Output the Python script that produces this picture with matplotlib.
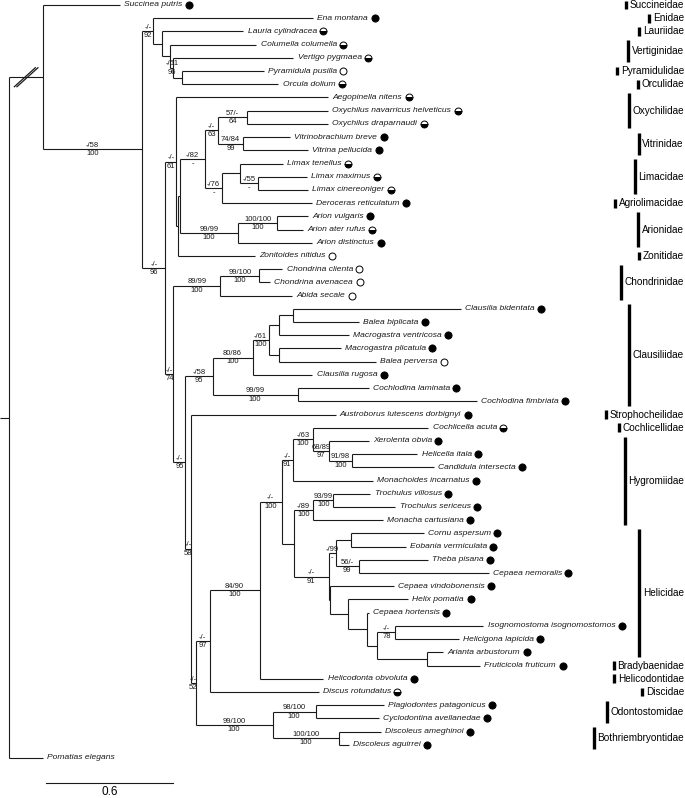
import matplotlib
matplotlib.use('Agg')
import matplotlib.pyplot as plt

# ---------------- DATA ----------------
# Sub-clades in Newick form; internal labels "bootstrap/bootstrap|posterior"
stylommatophora_basal = ("(Ena montana:0.756,(Lauria cylindracea:0.383,(Columella columella:0.406,"
                         "(Vertigo pygmaea:0.567,(Pyramidula pusilla:0.383,Orcula dolium:0.453):0.043)-/51|96:0.014)"
                         ":0.038):0.043)-/-|92:0.052")
limacoid = ("(Aegopinella nitens:0.718,((("
            "((Oxychilus navarricus helveticus:0.383,Oxychilus draparnaudi:0.383)57/-|64:0.137,"
            "(Vitrinobrachium breve:0.222,Vitrina pellucida:0.307)74/84|99:0.118)-/-|63:0.061,"
            "((Limax tenellus:0.203,(Limax maximus:0.231,Limax cinereoniger:0.236)-/55|-:0.085):0.085,"
            "Deroceras reticulatum:0.425)-/76|-:0.080)-/82|-:0.118,"
            "((Arion vulgaris:0.146,Arion ater rufus:0.123)100/100|100:0.184,Arion distinctus:0.350)99/99|100:0.274)"
            ":0.009,Zonitoides nitidus:0.364):0.009)-/-|61:0.052")
chondrinidae = ("((Chondrina clienta:0.109,Chondrina avenacea:0.052)99/100|100:0.184,"
                "Abida secale:0.340)89/99|100:0.222")
clausiliidae = ("(((((Clausilia bidentata:0.794,Balea biplicata:0.312):0.066,Macrogastra ventricosa:0.331):0.047,"
                "(Macrogastra plicatula:0.293,Balea perversa:0.458):0.047)-/61|100:0.076,"
                "Clausilia rugosa:0.283)80/86|100:0.189,"
                "(Cochlodina laminata:0.335,Cochlodina fimbriata:0.846)99/99|100:0.402)-/58|95:0.128")
hygromiidae_a = ("((Cochlicella acuta:0.543,(Xerolenta obvia:0.189,(Helicella itala:0.307,"
                 "Candidula intersecta:0.383)91/98|100:0.113)68/89|97:0.071)-/63|100:0.099,"
                 "Monachoides incarnatus:0.378)-/-|91:0.052")
hygromiidae_b = ("((Trochulus villosus:0.175,Trochulus sericeus:0.293)93/99|100:0.094,"
                 "Monacha cartusiana:0.326)-/89|100:0.094")
helicidae = ("(((Cornu aspersum:0.345,Eobania vermiculata:0.260):0.071,"
             "(Theba pisana:0.326,Cepaea nemoralis:0.614)56/-|99:0.109)-/99|-:0.033,"
             "(Cepaea vindobonensis:0.298,(Helix pomatia:0.283,(Cepaea hortensis:0.005,"
             "((Isognomostoma isognomostomos:0.416,Helicigona lapicida:0.298)-/-|78:0.085,"
             "(Arianta arbustorum:0.076,Fruticicola fruticum:0.250):0.236):0.047):0.090):0.085):0.009)-/-|91:0.165")
orthalicoid = ("((Plagiodontes patagonicus:0.321,Cyclodontina avellanedae:0.298)98/100|100:0.203,"
               "(Discoleus ameghinoi:0.198,Discoleus aguirrei:0.047)100/100|100:0.312)99/100|100:0.364")

helicoid = (f"((({hygromiidae_a},({hygromiidae_b},{helicidae}):0.057)-/-|100:0.104,"
            f"Helicodonta obvoluta:0.302)84/90|100:0.236,Discus rotundatus:0.515)-/-|97:0.066")
lower = (f"({clausiliidae},(Austroborus lutescens dorbignyi:0.685,({helicoid},{orthalicoid})-/-|52:0.024)"
         f"-/-|58:0.024)-/-|95:0.057")
tree_newick = (f"((Succinea putris:0.364,({stylommatophora_basal},({limacoid},({chondrinidae},{lower})-/-|74:0.038)"
               f"-/-|96:0.109)-/58|100:0.468):0.161,Pomatias elegans:0.161);")

# habitat marker: filled, half, open
filled = ["Succinea putris", "Ena montana", "Vitrinobrachium breve", "Vitrina pellucida",
          "Deroceras reticulatum", "Arion vulgaris", "Arion distinctus", "Clausilia bidentata",
          "Balea biplicata", "Macrogastra ventricosa", "Macrogastra plicatula", "Clausilia rugosa",
          "Cochlodina laminata", "Cochlodina fimbriata", "Austroborus lutescens dorbignyi",
          "Xerolenta obvia", "Helicella itala", "Candidula intersecta", "Monachoides incarnatus",
          "Trochulus villosus", "Trochulus sericeus", "Monacha cartusiana", "Cornu aspersum",
          "Eobania vermiculata", "Theba pisana", "Cepaea nemoralis", "Cepaea vindobonensis",
          "Helix pomatia", "Cepaea hortensis", "Isognomostoma isognomostomos", "Helicigona lapicida",
          "Arianta arbustorum", "Fruticicola fruticum", "Helicodonta obvoluta",
          "Plagiodontes patagonicus", "Cyclodontina avellanedae", "Discoleus ameghinoi", "Discoleus aguirrei"]
half = ["Lauria cylindracea", "Columella columella", "Vertigo pygmaea", "Orcula dolium",
        "Aegopinella nitens", "Oxychilus navarricus helveticus", "Oxychilus draparnaudi",
        "Limax tenellus", "Limax maximus", "Limax cinereoniger", "Arion ater rufus",
        "Cochlicella acuta", "Discus rotundatus"]
open_ = ["Pyramidula pusilla", "Zonitoides nitidus", "Chondrina clienta", "Chondrina avenacea",
         "Abida secale", "Balea perversa"]

family_names = ["Succineidae", "Enidae", "Lauriidae", "Vertiginidae", "Pyramidulidae", "Orculidae",
                "Oxychilidae", "Vitrinidae", "Limacidae", "Agriolimacidae", "Arionidae", "Zonitidae",
                "Chondrinidae", "Clausiliidae", "Strophocheilidae", "Cochlicellidae", "Hygromiidae",
                "Helicidae", "Bradybaenidae", "Helicodontidae", "Discidae", "Odontostomidae",
                "Bothriembryontidae"]
family_first = ["Succinea putris", "Ena montana", "Lauria cylindracea", "Columella columella",
                "Pyramidula pusilla", "Orcula dolium", "Aegopinella nitens", "Vitrinobrachium breve",
                "Limax tenellus", "Deroceras reticulatum", "Arion vulgaris", "Zonitoides nitidus",
                "Chondrina clienta", "Clausilia bidentata", "Austroborus lutescens dorbignyi",
                "Cochlicella acuta", "Xerolenta obvia", "Cornu aspersum", "Fruticicola fruticum",
                "Helicodonta obvoluta", "Discus rotundatus", "Plagiodontes patagonicus", "Discoleus ameghinoi"]
family_last = ["Succinea putris", "Ena montana", "Lauria cylindracea", "Vertigo pygmaea",
               "Pyramidula pusilla", "Orcula dolium", "Oxychilus draparnaudi", "Vitrina pellucida",
               "Limax cinereoniger", "Deroceras reticulatum", "Arion distinctus", "Zonitoides nitidus",
               "Abida secale", "Cochlodina fimbriata", "Austroborus lutescens dorbignyi",
               "Cochlicella acuta", "Monacha cartusiana", "Arianta arbustorum", "Fruticicola fruticum",
               "Helicodonta obvoluta", "Discus rotundatus", "Cyclodontina avellanedae", "Discoleus aguirrei"]

scale_length = 0.6
scale_label = "0.6"

# ---------------- PARSE ----------------
def parse(s):
    pos = 0
    def node():
        nonlocal pos
        ch = []
        if s[pos] == '(':
            pos += 1
            while True:
                ch.append(node())
                if s[pos] == ',':
                    pos += 1
                    continue
                if s[pos] == ')':
                    pos += 1
                    break
        st = pos
        while s[pos] not in ':,();':
            pos += 1
        name = s[st:pos]
        ln = 0.0
        if s[pos] == ':':
            pos += 1
            st = pos
            while s[pos] not in ',();':
                pos += 1
            ln = float(s[st:pos])
        return {'name': name, 'len': ln, 'ch': ch}
    return node()

root = parse(tree_newick)

ROOT_STUB = 0.043
leaves = []

def layout(n, x):
    n['x'] = x
    for c in n['ch']:
        layout(c, x + c['len'])
    if not n['ch']:
        n['y'] = len(leaves)
        leaves.append(n)
    else:
        n['y'] = (n['ch'][0]['y'] + n['ch'][-1]['y']) / 2.0

layout(root, ROOT_STUB)
leaf_y = {l['name']: l['y'] for l in leaves}

# ---------------- PLOT ----------------
plt.rcParams['font.family'] = ['Liberation Sans', 'DejaVu Sans']
W, H = 685, 798
fig = plt.figure(figsize=(W / 100, H / 100), dpi=100)
ax = fig.add_axes([0, 0, 1, 1])
ax.set_xlim(0, 3.236)
ax.set_ylim(60.03, -0.378)
ax.axis('off')

LC = '#1a1a1a'
LW = 0.8

ax.plot([0, root['x']], [root['y'], root['y']], color=LC, lw=LW, solid_capstyle='butt')

leaf_texts = []

def draw(n, parent=None):
    if parent is not None:
        ax.plot([parent['x'], n['x']], [n['y'], n['y']], color=LC, lw=LW, solid_capstyle='butt')
    if n['ch']:
        ax.plot([n['x'], n['x']], [n['ch'][0]['y'], n['ch'][-1]['y']], color=LC, lw=LW,
                solid_capstyle='butt')
        if n['name'] and parent is not None:
            top, bot = n['name'].split('|')
            xm = (parent['x'] + n['x']) / 2
            ax.annotate(top, (xm, n['y']), xytext=(0, 0.2), textcoords='offset points',
                        ha='center', va='bottom', fontsize=5.5, color=LC)
            ax.annotate(bot, (xm, n['y']), xytext=(0, -0.6), textcoords='offset points',
                        ha='center', va='top', fontsize=5.5, color=LC)
        for c in n['ch']:
            draw(c, n)
    else:
        t = ax.annotate(n['name'], (n['x'], n['y']), xytext=(3, 0), textcoords='offset points',
                        ha='left', va='center', fontsize=6.1, style='italic', color=LC)
        leaf_texts.append((t, n))

draw(root)

# break marks on the ingroup stem
ing = root['ch'][0]
xm = (root['x'] + ing['x']) / 2
dx, dy = 10.5 / 211.7, 9.5 / 13.21
for off in (-1.3 / 211.7, 1.3 / 211.7):
    ax.plot([xm - dx + off, xm + dx + off], [ing['y'] + dy, ing['y'] - dy], color=LC, lw=0.9)

fig.canvas.draw()
r = fig.canvas.get_renderer()
inv = ax.transData.inverted()

for t, n in leaf_texts:
    name = n['name']
    if name not in filled and name not in half and name not in open_:
        continue
    bb = t.get_window_extent(r)
    yd = ax.transData.transform((0, n['y']))[1]
    xd = inv.transform((bb.x1 + 6.5, yd))[0]
    if name in filled:
        ax.plot(xd, n['y'], marker='o', ms=5.2, mfc='black', mec='black', mew=0.6)
    elif name in half:
        ax.plot(xd, n['y'], marker='o', ms=5.0, fillstyle='bottom', mfc='black',
                markerfacecoloralt='white', mec='black', mew=0.7)
    else:
        ax.plot(xd, n['y'], marker='o', ms=5.0, mfc='white', mec='black', mew=0.7)

# family bars and labels
x_right = 684 / 211.7
for fam, a, b in zip(family_names, family_first, family_last):
    y0, y1 = leaf_y[a], leaf_y[b]
    t = ax.text(x_right, (y0 + y1) / 2, fam, ha='right', va='center', fontsize=7.2, color='black')
    bb = t.get_window_extent(r)
    xb = inv.transform((bb.x0 - 3.5, 0))[0]
    ax.plot([xb, xb], [y0 - 0.33, y1 + 0.33], color='black', lw=2.4, solid_capstyle='butt')

# scale bar
sx = 46 / 211.7
sy = 58.9
ax.plot([sx, sx + scale_length], [sy, sy], color=LC, lw=LW)
ax.text(sx + scale_length / 2, 59.55, scale_label, ha='center', va='center', fontsize=8.5)

fig.savefig('out.png', dpi=100)
